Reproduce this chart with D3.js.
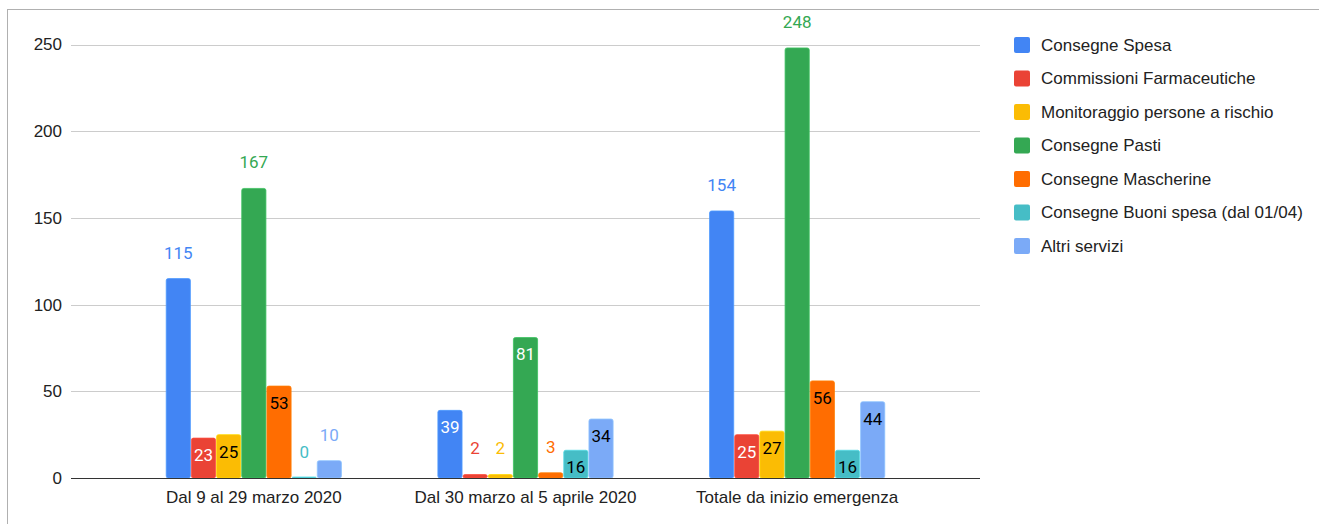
<!DOCTYPE html>
<html>
<head>
<meta charset="utf-8">
<script src="https://cdn.jsdelivr.net/npm/d3@7"></script>
<style>
  body { margin: 0; background: #fff; }
  svg { display: block; }
</style>
</head>
<body>
<svg id="chart"></svg>
<script>
(function() {
  'use strict';

  // Data
  let categories = ['Dal 9 al 29 marzo 2020', 'Dal 30 marzo al 5 aprile 2020', 'Totale da inizio emergenza'];
  let seriesNames = [
    'Consegne Spesa',
    'Commissioni Farmaceutiche',
    'Monitoraggio persone a rischio',
    'Consegne Pasti',
    'Consegne Mascherine',
    'Consegne Buoni spesa (dal 01/04)',
    'Altri servizi'
  ];
  let consegneSpesa = [115, 39, 154];
  let commissioniFarmaceutiche = [23, 2, 25];
  let monitoraggio = [25, 2, 27];
  let consegnePasti = [167, 81, 248];
  let consegneMascherine = [53, 3, 56];
  let buoniSpesa = [0, 16, 16];
  let altriServizi = [10, 34, 44];
  let yTicks = [0, 50, 100, 150, 200, 250];

  let seriesValues = [consegneSpesa, commissioniFarmaceutiche, monitoraggio,
    consegnePasti, consegneMascherine, buoniSpesa, altriServizi];
  let colors = ['#4285f4', '#ea4335', '#fbbc04', '#34a853', '#ff6d01', '#46bdc6', '#7baaf7'];
  let insideText = ['#ffffff', '#ffffff', '#000000', '#ffffff', '#000000', '#000000', '#000000'];

  let width = 1319, height = 524;
  let axisFont = '"Liberation Sans", Arial, sans-serif';
  let labelFont = 'Roboto, "Liberation Sans", sans-serif';

  let svg = d3.select('#chart')
    .attr('width', width)
    .attr('height', height);

  // Chart border (only top and left visible in the frame)
  svg.append('rect')
    .attr('x', 7.5)
    .attr('y', 9.5)
    .attr('width', 1400)
    .attr('height', 600)
    .style('fill', 'none')
    .style('stroke', '#b0b0b0');

  // Scales
  let y = d3.scaleLinear().domain([0, 250]).range([478, 44.5]);
  let x0 = d3.scaleBand()
    .domain(categories)
    .range([118, 933])
    .paddingInner(0.355)
    .paddingOuter(0.1775);
  let x1 = d3.scaleBand()
    .domain(seriesNames)
    .range([0, x0.bandwidth()])
    .paddingInner(0.04);

  // Gridlines
  let grid = svg.append('g').attr('class', 'grid');
  grid.selectAll('line')
    .data(yTicks.filter(t => t !== 0))
    .enter()
    .append('line')
    .attr('x1', 71)
    .attr('x2', 980)
    .attr('y1', d => Math.round(y(d)) + 0.5)
    .attr('y2', d => Math.round(y(d)) + 0.5)
    .style('stroke', '#cccccc')
    .style('stroke-width', 1);

  // Y axis labels
  let yAxis = svg.append('g')
    .attr('transform', 'translate(62,0)')
    .call(d3.axisLeft(y).tickValues(yTicks).tickSize(0).tickPadding(0));
  yAxis.select('.domain').remove();
  yAxis.selectAll('text')
    .style('font-family', axisFont)
    .style('font-size', '17px')
    .style('fill', '#222222');

  // Bars
  let rows = [];
  categories.forEach((cat, ci) => {
    seriesNames.forEach((name, si) => {
      rows.push({ cat: cat, name: name, si: si, value: seriesValues[si][ci] });
    });
  });

  let bars = svg.append('g').attr('class', 'bars');
  bars.selectAll('rect')
    .data(rows)
    .enter()
    .append('rect')
    .attr('x', d => x0(d.cat) + x1(d.name))
    .attr('y', d => Math.min(y(d.value), y(0) - 1))
    .attr('width', x1.bandwidth())
    .attr('height', d => Math.max(y(0) - y(d.value), 1))
    .attr('rx', 2)
    .style('fill', d => colors[d.si])
    .style('stroke', d => d3.color(colors[d.si]).brighter(0.4))
    .style('stroke-width', 0.8);

  // Baseline
  svg.append('line')
    .attr('x1', 71)
    .attr('x2', 980)
    .attr('y1', y(0) + 0.5)
    .attr('y2', y(0) + 0.5)
    .style('stroke', '#333333')
    .style('stroke-width', 1.2);

  // Data labels: outside above the bar for short or very tall bars
  function isOutside(d) {
    return d.value >= 100 || (y(0) - y(d.value)) < 20;
  }
  svg.append('g').attr('class', 'labels')
    .selectAll('text')
    .data(rows)
    .enter()
    .append('text')
    .attr('x', d => x0(d.cat) + x1(d.name) + x1.bandwidth() / 2)
    .attr('y', d => isOutside(d) ? y(d.value) - 26 : y(d.value) + 17)
    .attr('dy', '0.35em')
    .style('text-anchor', 'middle')
    .style('font-family', labelFont)
    .style('font-size', '17px')
    .style('fill', d => isOutside(d) ? colors[d.si] : insideText[d.si])
    .text(d => d.value);

  // Category labels
  svg.append('g').attr('class', 'categories')
    .selectAll('text')
    .data(categories)
    .enter()
    .append('text')
    .attr('x', d => x0(d) + x0.bandwidth() / 2)
    .attr('y', 497)
    .attr('dy', '0.35em')
    .style('text-anchor', 'middle')
    .style('font-family', axisFont)
    .style('font-size', '17px')
    .style('fill', '#222222')
    .text(d => d);

  // Legend
  let legend = svg.append('g')
    .attr('class', 'legend')
    .attr('transform', 'translate(1014,45)');
  let item = legend.selectAll('g')
    .data(seriesNames)
    .enter()
    .append('g')
    .attr('transform', (d, i) => 'translate(0,' + (i * 33.5) + ')');
  item.append('rect')
    .attr('x', 0)
    .attr('y', -8)
    .attr('width', 16)
    .attr('height', 16)
    .attr('rx', 2)
    .style('fill', (d, i) => colors[i]);
  item.append('text')
    .attr('x', 27)
    .attr('y', 0)
    .attr('dy', '0.35em')
    .style('font-family', axisFont)
    .style('font-size', '17px')
    .style('fill', '#222222')
    .text(d => d);
})();
</script>
</body>
</html>
